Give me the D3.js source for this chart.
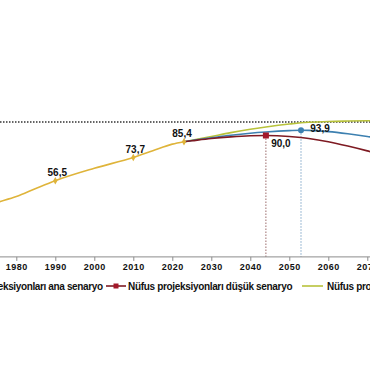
<!DOCTYPE html>
<html>
<head>
<meta charset="utf-8">
<script src="https://cdn.jsdelivr.net/npm/d3@7"></script>
<style>
  body { margin: 0; background: #fff; }
  svg { display: block; font-family: "Liberation Sans", Arial, sans-serif; }
</style>
</head>
<body>
<div id="chart"></div>
<script>
// historic population (million)
var histYears  = [1970, 1975, 1980, 1985, 1990, 2000, 2010, 2015, 2020, 2023];
var histValues = [35.6, 40.3, 44.7, 50.7, 56.5, 65.7, 73.7, 78.7, 83.6, 85.4];
var histLabelled = [1990, 2010, 2023];

// projections
var projYears = [2023, 2025, 2030, 2035, 2040, 2044, 2050, 2053, 2055, 2060, 2065, 2070, 2075];
var mainValues = [85.4, 86.3, 88.3, 90.2, 91.7, 92.6, 93.6, 93.9, 93.8, 92.9, 91.3, 89.3, 87.0];
var lowValues  = [85.4, 86.1, 87.8, 89.0, 89.8, 90.0, 89.3, 88.5, 87.8, 85.4, 82.2, 78.6, 74.5];
var highValues = [85.4, 86.5, 89.3, 92.1, 94.6, 96.3, 98.5, 99.4, 99.8, 100.4, 100.7, 100.9, 101.0];

var tickYears = [1980, 1990, 2000, 2010, 2020, 2030, 2040, 2050, 2060, 2070];
var refValue = 100;
var lowPeak = {year: 2044, value: 90.0};
var mainPeak = {year: 2053, value: 93.9};

var legendNames = ["Nüfus projeksiyonları ana senaryo",
                   "Nüfus projeksiyonları düşük senaryo",
                   "Nüfus projeksiyonları yüksek senaryo"];

var width = 370, height = 380;

var svg = d3.select("#chart").append("svg")
    .attr("width", width)
    .attr("height", height);

svg.append("rect").attr("width", width).attr("height", height).attr("fill", "#fff");

var x = d3.scaleLinear().domain([1980, 2070]).range([16.3, 367.3]);
var y = d3.scaleLinear().domain([0, 100]).range([256.9, 122]);

var fmt = function(v) { return d3.format(".1f")(v).replace(".", ","); };

// reference dotted line at 100
svg.append("line")
    .attr("x1", 0).attr("x2", width)
    .attr("y1", y(refValue)).attr("y2", y(refValue))
    .attr("stroke", "#333")
    .attr("stroke-width", 1.3)
    .attr("stroke-dasharray", "1.5,1.5");

// vertical drop lines
svg.append("line")
    .attr("x1", x(lowPeak.year)).attr("x2", x(lowPeak.year))
    .attr("y1", y(lowPeak.value)).attr("y2", y(0))
    .attr("stroke", "#9a6a6a").attr("stroke-width", 1)
    .attr("stroke-dasharray", "1.5,1.5");
svg.append("line")
    .attr("x1", x(mainPeak.year)).attr("x2", x(mainPeak.year))
    .attr("y1", y(mainPeak.value)).attr("y2", y(0))
    .attr("stroke", "#7fa6c8").attr("stroke-width", 1)
    .attr("stroke-dasharray", "1.5,1.5");

// x axis
var xAxis = d3.axisBottom(x)
    .tickValues(tickYears)
    .tickFormat(d3.format("d"))
    .tickSize(4)
    .tickSizeOuter(0);

var gx = svg.append("g")
    .attr("transform", "translate(0," + y(0) + ")")
    .call(xAxis);
gx.select(".domain").attr("d", "M0,0H" + width).attr("stroke", "#8c8c8c");
gx.selectAll(".tick line").attr("stroke", "#8c8c8c");
gx.selectAll(".tick text")
    .attr("y", 7)
    .attr("fill", "#111")
    .style("font-size", "9px")
    .style("font-weight", "bold")
    .style("letter-spacing", "0.5px")
    .style("font-family", "'Liberation Sans', Arial, sans-serif");

var line = d3.line()
    .x(function(d) { return x(d[0]); })
    .y(function(d) { return y(d[1]); })
    .curve(d3.curveMonotoneX);

var series = [
    {values: highValues, color: "#b8c23a"},
    {values: mainValues, color: "#3d80b0"},
    {values: lowValues,  color: "#7e1a22"}
];

series.forEach(function(s) {
    svg.append("path")
        .datum(projYears.map(function(yr, i) { return [yr, s.values[i]]; }))
        .attr("d", line)
        .attr("fill", "none")
        .attr("stroke", s.color)
        .attr("stroke-width", 1.6);
});

var histData = histYears.map(function(yr, i) { return [yr, histValues[i]]; });
svg.append("path")
    .datum(histData)
    .attr("d", line)
    .attr("fill", "none")
    .attr("stroke", "#dfb43a")
    .attr("stroke-width", 1.6);

var diamond = d3.symbol().type(d3.symbolDiamond).size(16);
var labelled = histData.filter(function(d) { return histLabelled.indexOf(d[0]) >= 0; });

svg.selectAll(".hmark")
    .data(labelled)
    .enter().append("path")
    .attr("d", diamond)
    .attr("transform", function(d) { return "translate(" + x(d[0]) + "," + y(d[1]) + ")"; })
    .attr("fill", "#dfb43a");

svg.selectAll(".hlabel")
    .data(labelled)
    .enter().append("text")
    .attr("x", function(d) { return x(d[0]) + (d[0] == 2023 ? -2 : 2); })
    .attr("y", function(d) { return y(d[1]) - 4.5; })
    .attr("text-anchor", "middle")
    .style("font-size", "10px")
    .style("font-weight", "bold")
    .attr("fill", "#111")
    .text(function(d) { return fmt(d[1]); });

// peak markers
svg.append("rect")
    .attr("x", x(lowPeak.year) - 3).attr("y", y(lowPeak.value) - 3)
    .attr("width", 6).attr("height", 6)
    .attr("fill", "#a3182a");
svg.append("circle")
    .attr("cx", x(mainPeak.year)).attr("cy", y(mainPeak.value))
    .attr("r", 3)
    .attr("fill", "#3d80b0");

svg.append("text")
    .attr("x", x(lowPeak.year) + 15).attr("y", y(lowPeak.value) + 12)
    .attr("text-anchor", "middle")
    .style("font-size", "10px").style("font-weight", "bold")
    .attr("fill", "#111")
    .text(fmt(lowPeak.value));
svg.append("text")
    .attr("x", x(mainPeak.year) + 19).attr("y", y(mainPeak.value) + 1.5)
    .attr("text-anchor", "middle")
    .style("font-size", "10px").style("font-weight", "bold")
    .attr("fill", "#111")
    .text(fmt(mainPeak.value));

// legend
var ly = 286;
var legend = svg.append("g").style("font-size", "10px").style("font-weight", "bold");

legend.append("text")
    .attr("x", 103 - 151.5).attr("y", ly + 3.5)
    .attr("fill", "#111")
    .attr("textLength", 151.5)
    .attr("lengthAdjust", "spacing")
    .text(legendNames[0]);

legend.append("line")
    .attr("x1", 106).attr("x2", 126).attr("y1", ly).attr("y2", ly)
    .attr("stroke", "#7e1a22").attr("stroke-width", 1.6);
legend.append("rect")
    .attr("x", 113.5).attr("y", ly - 2.5).attr("width", 5).attr("height", 5)
    .attr("fill", "#a3182a");
legend.append("text")
    .attr("x", 128).attr("y", ly + 3.5)
    .attr("fill", "#111")
    .attr("textLength", 164.5)
    .attr("lengthAdjust", "spacing")
    .text(legendNames[1]);

legend.append("line")
    .attr("x1", 302).attr("x2", 323).attr("y1", ly).attr("y2", ly)
    .attr("stroke", "#b8c23a").attr("stroke-width", 1.6);
legend.append("text")
    .attr("x", 327).attr("y", ly + 3.5)
    .attr("fill", "#111")
    .attr("textLength", 169)
    .attr("lengthAdjust", "spacing")
    .text(legendNames[2]);
</script>
</body>
</html>
